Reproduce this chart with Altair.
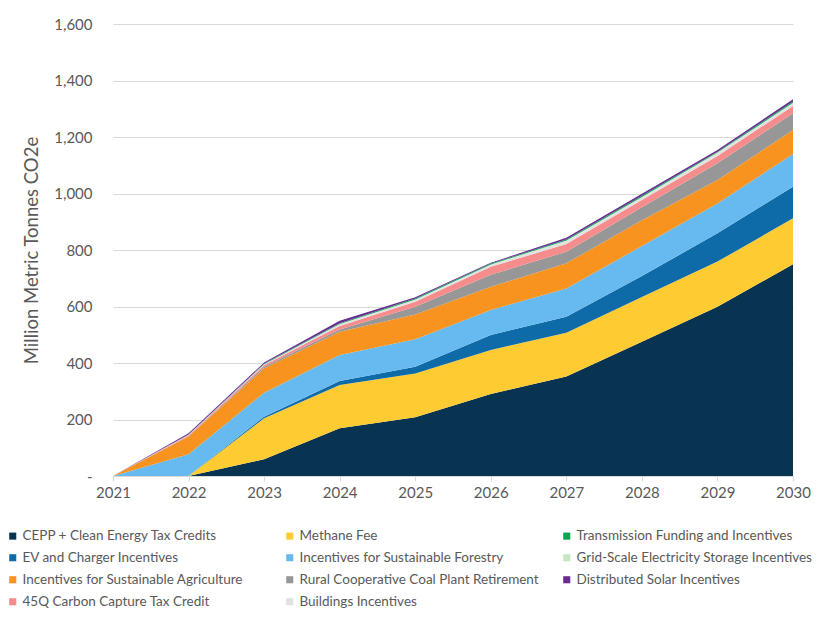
import altair as alt
import pandas as pd

years = [2021, 2022, 2023, 2024, 2025, 2026, 2027, 2028, 2029, 2030]

# stacking order (bottom to top)
stack_series = [
    "CEPP + Clean Energy Tax Credits",
    "Methane Fee",
    "EV and Charger Incentives",
    "Incentives for Sustainable Forestry",
    "Incentives for Sustainable Agriculture",
    "Rural Cooperative Coal Plant Retirement",
    "45Q Carbon Capture Tax Credit",
    "Buildings Incentives",
    "Grid-Scale Electricity Storage Incentives",
    "Transmission Funding and Incentives",
    "Distributed Solar Incentives",
]

cepp = [0, 0, 59, 169, 208, 290, 352, 475, 599, 750]
methane = [0, 0, 145, 153, 155, 156, 155, 159, 160, 162]
ev = [0, 0, 6, 14, 24, 53, 57, 74, 100, 112]
forestry = [0, 77, 85, 92, 97, 89, 100, 106, 106, 116]
agriculture = [0, 63, 86, 83, 88, 82, 89, 91, 83, 85]
rural_coal = [0, 1, 6, 8, 27, 42, 41, 46, 59, 59]
carbon_45q = [0, 3, 6, 12, 18, 29, 27, 26, 26, 26]
buildings = [0, 2, 3, 6, 7, 7, 11, 9, 10, 9]
grid_storage = [0, 0, 0, 1, 1, 1, 2, 2, 2, 2]
transmission = [0, 1, 2, 3, 3, 3, 3, 4, 3, 5]
solar = [0, 4, 4, 9, 5, 3, 6, 7, 6, 8]

series_values = [cepp, methane, ev, forestry, agriculture, rural_coal,
                 carbon_45q, buildings, grid_storage, transmission, solar]

series_colors = {
    "CEPP + Clean Energy Tax Credits": "#083452",
    "Methane Fee": "#FECC32",
    "EV and Charger Incentives": "#0F6AA8",
    "Incentives for Sustainable Forestry": "#67BAF0",
    "Incentives for Sustainable Agriculture": "#F7931E",
    "Rural Cooperative Coal Plant Retirement": "#979797",
    "45Q Carbon Capture Tax Credit": "#F78C8C",
    "Buildings Incentives": "#E1E1E1",
    "Grid-Scale Electricity Storage Incentives": "#C7E6C3",
    "Transmission Funding and Incentives": "#00A651",
    "Distributed Solar Incentives": "#6A2C91",
}

# legend order (column by column, three columns of four rows)
legend_order = [
    "CEPP + Clean Energy Tax Credits",
    "EV and Charger Incentives",
    "Incentives for Sustainable Agriculture",
    "45Q Carbon Capture Tax Credit",
    "Methane Fee",
    "Incentives for Sustainable Forestry",
    "Rural Cooperative Coal Plant Retirement",
    "Buildings Incentives",
    "Transmission Funding and Incentives",
    "Grid-Scale Electricity Storage Incentives",
    "Distributed Solar Incentives",
]

y_ticks = [0, 200, 400, 600, 800, 1000, 1200, 1400, 1600]

rows = []
for idx, (name, vals) in enumerate(zip(stack_series, series_values)):
    for yr, v in zip(years, vals):
        rows.append({"year": yr, "series": name, "value": v, "stack_idx": idx})
df = pd.DataFrame(rows)

FONT = "Lato"
TXT = "#595959"
GRID = "#D9D9D9"

chart = alt.Chart(df).mark_area(opacity=1).encode(
    x=alt.X("year:Q",
            scale=alt.Scale(domain=[2021, 2030], nice=False, zero=False),
            axis=alt.Axis(values=years, format="d", grid=False, title=None,
                          labelFont=FONT, labelFontSize=15, labelColor=TXT,
                          domainColor=GRID, tickColor=GRID, tickSize=5,
                          labelPadding=4, labelFlush=False)),
    y=alt.Y("value:Q", stack="zero",
            scale=alt.Scale(domain=[0, 1600], nice=False),
            axis=alt.Axis(values=y_ticks, grid=True, gridColor=GRID,
                          domain=False, ticks=False, labelPadding=21,
                          labelExpr="datum.value == 0 ? '-\u00a0\u00a0\u00a0' : format(datum.value, ',')",
                          labelFont=FONT, labelFontSize=15, labelColor=TXT,
                          title="Million Metric Tonnes CO2e",
                          titleFont=FONT, titleFontSize=18.5, titleColor=TXT,
                          titleFontWeight="normal", titlePadding=12)),
    color=alt.Color("series:N",
                    scale=alt.Scale(domain=legend_order,
                                    range=[series_colors[s] for s in legend_order]),
                    legend=alt.Legend(title=None, orient="none",
                                      legendX=-107, legendY=505,
                                      columns=3, columnPadding=21, rowPadding=7,
                                      gridAlign="all",
                                      symbolType="square", symbolSize=50,
                                      symbolStrokeWidth=0, labelOffset=3,
                                      labelFont=FONT, labelFontSize=13.5,
                                      labelColor=TXT, labelLimit=400)),
    order=alt.Order("stack_idx:Q"),
).properties(
    width=680,
    height=452,
    autosize=alt.AutoSizeParams(type="none"),
    padding={"left": 105, "top": 16, "right": 25, "bottom": 140},
).configure_view(stroke=None)

chart.save("out.html", embed_options={"renderer": "svg", "actions": False})
